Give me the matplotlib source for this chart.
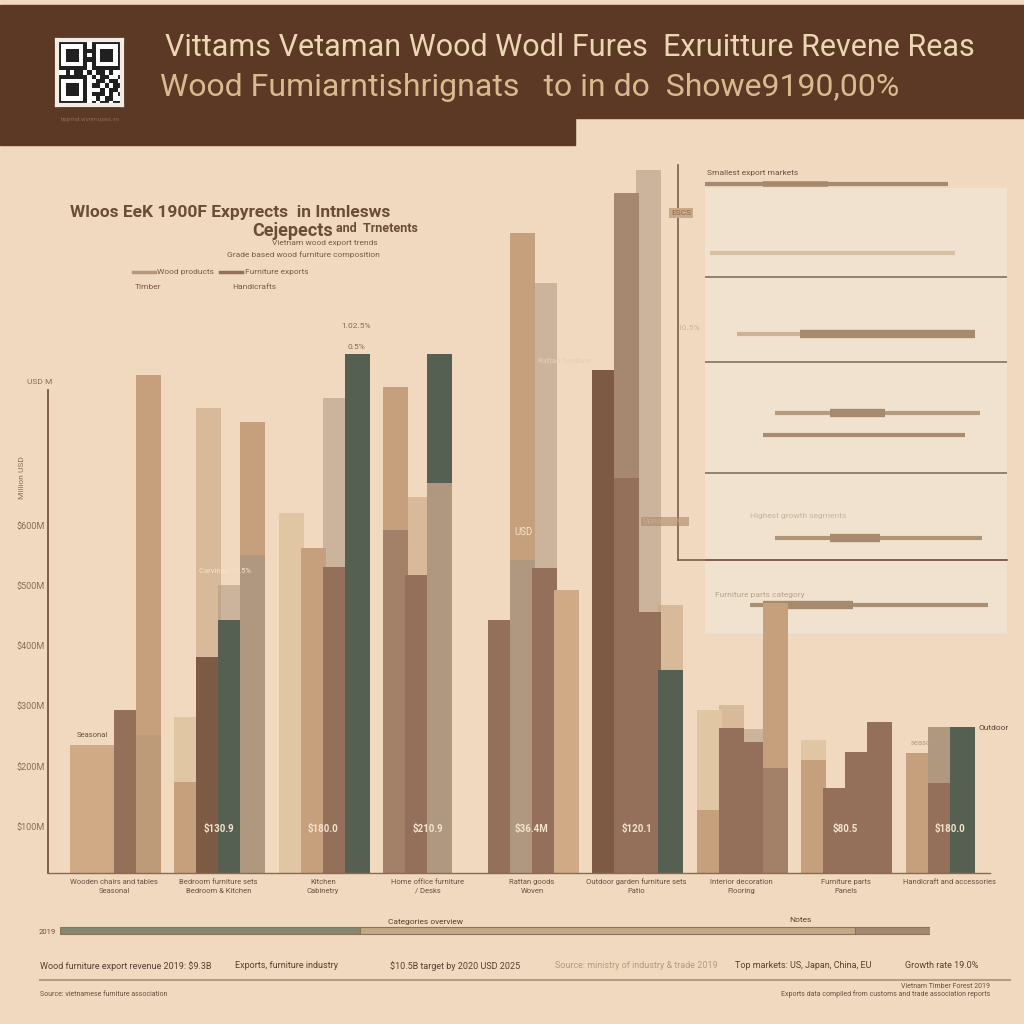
import matplotlib.pyplot as plt
import numpy as np
from matplotlib.patches import Rectangle
from matplotlib.lines import Line2D

nan = np.nan

# ---- data (million USD) ----
group_labels = ['Wooden chairs and tables\nSeasonal', 'Bedroom furniture sets\nBedroom & Kitchen',
                'Kitchen\nCabinetry', 'Home office furniture\n/ Desks', 'Rattan goods\nWoven',
                'Outdoor garden furniture sets\nPatio', 'Interior decoration\nFlooring',
                'Furniture parts\nPanels', 'Handicraft and accessories\n']
slot0 = [235, 282, 622, 832, 444, 860, 294, 244, 222]
slot1 = [235, 382, 564, 519, 1089, 1155, 264, 164, 265]
slot2 = [294, 444, 532, 887, 530, 457, 240, 224, 265]
slot3 = [852, 774, 887, nan, 494, 360, 472, 274, nan]
# darker base portion of two-tone bars
low0 = [nan, 174, nan, 594, nan, nan, 127, 210, nan]
low1 = [nan, nan, nan, nan, 544, 680, nan, nan, 172]
low2 = [nan, nan, nan, 672, nan, nan, nan, nan, nan]
low3 = [252, 552, nan, nan, nan, nan, 197, nan, nan]
# faded bars behind
ghost1 = [nan, 797, nan, 649, nan, nan, 302, nan, nan]
ghost2 = [nan, 502, 814, nan, 1005, 1194, 262, nan, nan]
ghost3 = [nan, nan, nan, nan, nan, 469, nan, nan, nan]
bar_notes = ['', '$130.9', '$180.0', '$210.9', '$36.4M', '$120.1', '', '$80.5', '$180.0']

y_ticks = [100, 200, 300, 400, 500, 600]
y_tick_labels = ['$100M', '$200M', '$300M', '$400M', '$500M', '$600M']

# right panel: share of exports (%) as range lines
panel_start = [0, 1.7, 10.6, 23.2, 19.2, 23.2, 14.9]
panel_end = [80.5, 82.8, 89.4, 91.0, 86.1, 91.7, 93.7]
panel_hi_start = [19.2, nan, 31.5, 41.4, nan, 41.4, 19.2]
panel_hi_end = [40.7, nan, 89.4, 59.6, nan, 58.0, 49.0]

timeline_parts = [300, 495, 75]
footer_items = ['Wood furniture export revenue 2019: $9.3B', 'Exports, furniture industry',
                '$10.5B target by 2020 USD 2025', 'Source: ministry of industry & trade 2019',
                'Top markets: US, Japan, China, EU', 'Growth rate 19.0%']

# ---- styles ----
bg = '#f0d9bf'
banner = '#5b3924'
C = {'tan': '#c6a07c', 'pale': '#e0c6a2', 'brown': '#94705a', 'dark': '#7c5a44',
     'green': '#566052', 'grey': '#b09780', 'light': '#cfaa85', 'tan2': '#bd9a78',
     'mid': '#a38068', 'taupe': '#a68870'}
front_cols = [
    ['light', 'light', 'brown', 'tan'],
    ['pale', 'dark', 'green', 'tan'],
    ['pale', 'tan', 'brown', 'green'],
    ['tan', 'brown', 'green', 'tan'],
    ['brown', 'tan', 'brown', 'light'],
    ['dark', 'taupe', 'brown', 'green'],
    ['pale', 'brown', 'brown', 'tan'],
    ['pale', 'brown', 'brown', 'brown'],
    ['tan', 'grey', 'green', 'tan'],
]
low_cols = [['tan', 'mid', 'grey', 'tan2'],
            ['tan', 'mid', 'grey', 'grey'],
            ['tan', 'mid', 'grey', 'mid'],
            ['mid', 'mid', 'grey', 'mid'],
            ['tan', 'grey', 'grey', 'mid'],
            ['tan', 'brown', 'grey', 'mid'],
            ['tan', 'mid', 'grey', 'mid'],
            ['tan', 'brown', 'grey', 'mid'],
            ['tan', 'brown', 'grey', 'mid']]
ghost_cols = ['tan', 'grey', 'tan']

plt.rcParams['font.family'] = ['Roboto', 'DejaVu Sans']


def fx(x):
    return x / 1024


def fy(y):
    return 1 - y / 1024


fig = plt.figure(figsize=(10.24, 10.24), dpi=100, facecolor=bg)

# header banner
fig.patches.append(Rectangle((0, fy(118)), 1, fy(5) - fy(118), transform=fig.transFigure,
                             color=banner, zorder=-1))
fig.patches.append(Rectangle((0, fy(145)), fx(575), fy(118) - fy(145), transform=fig.transFigure,
                             color=banner, zorder=-1))
fig.text(fx(165), fy(47), 'Vittams Vetaman Wood Wodl Fures  Exruitture Revene Reas',
         color='#ecd6b3', fontsize=22, va='center', ha='left')
fig.text(fx(160), fy(88), 'Wood Fumiarntishrignats   to in do  Showe9190,00%',
         color='#d9b98f', fontsize=23, va='center', ha='left')

# qr code
qr_rows = ["111111101111111", "100000101000001", "101110111011101", "101110101011101",
           "101110111011101", "100000101000001", "111111101111111", "001011010110100",
           "111111101011001", "100000100110110", "101110101101011", "101110100010110",
           "101110101110101", "100000100101100", "111111101011011"]
qr = np.array([[int(c) for c in r] for r in qr_rows])
qax = fig.add_axes([fx(57), fy(105), 65 / 1024, 65 / 1024])
qax.imshow(1 - qr, cmap='gray', interpolation='nearest', vmin=-0.15, vmax=1)
qax.set_xticks([])
qax.set_yticks([])
for s in qax.spines.values():
    s.set_color('#f2ece4')
    s.set_linewidth(3)
fig.text(fx(90), fy(119), 'hppmd.wvnmuses.vn', color='#8a6a55', fontsize=4.5, ha='center', va='center')

# right panel
pax = fig.add_axes([fx(705), fy(635), fx(1007) - fx(705), fy(188) - fy(635)], facecolor='#f0e2ce')
pax.set_zorder(1)
pax.set_xlim(0, 100)
pax.set_ylim(5, 0)
pax.set_xticks([])
pax.set_yticks([])
for s in pax.spines.values():
    s.set_visible(False)
for d in [1.0, 1.95, 3.19, 4.16]:
    pax.axhline(d, color='#7d6552', lw=1.1)
pax.axhline(5, color='#c9b29a', lw=1)
line_pos = [-0.045, 0.73, 1.63, 2.52, 2.76, 3.91, 4.66]
line_cols = ['#a38a72', '#d8c1a3', '#cdb394', '#b59a7e', '#a98d72', '#b09479', '#ab8f74']
for i in range(len(line_pos)):
    pax.plot([panel_start[i], panel_end[i]], [line_pos[i]] * 2, color=line_cols[i],
             lw=3, solid_capstyle='butt', clip_on=False)
    if not np.isnan(panel_hi_start[i]):
        pax.plot([panel_hi_start[i], panel_hi_end[i]], [line_pos[i]] * 2, color='#a7896c',
                 lw=6 if i else 4, solid_capstyle='butt', clip_on=False)
fig.text(fx(707), fy(173), 'Smallest export markets', color='#6b5040', fontsize=6, va='center')
fig.text(fx(750), fy(516), 'Highest growth segments', color='#c9b39b', fontsize=6, va='center')
fig.text(fx(715), fy(595), 'Furniture parts category', color='#b9a38b', fontsize=6, va='center')
fig.add_artist(Line2D([fx(678), fx(678)], [fy(165), fy(560)], color='#7a5f4a', lw=1.2))
fig.add_artist(Line2D([fx(678), fx(1007)], [fy(560), fy(560)], color='#7a5f4a', lw=1.2))
fig.text(fx(681), fy(213), 'ESCS', color='#8a6a52', fontsize=6, ha='center', va='center',
         bbox=dict(facecolor='#c9a987', edgecolor='none', pad=1.5))
fig.text(fx(700), fy(328), '10.5%', color='#cdb398', fontsize=6, ha='right', va='center')

# main chart
ax = fig.add_axes([fx(48), fy(873), fx(990) - fx(48), fy(160) - fy(873)])
ax.set_facecolor('none')
ax.set_zorder(3)
ax.set_xlim(-0.2105, 8.804)
ax.set_ylim(22, 1210)
step = 0.2105
w = 0.235
x = np.arange(len(group_labels))

ghosts = [ghost1, ghost2, ghost3]
for k, g in enumerate(ghosts):
    ax.bar(x + (k + 1) * step, g, width=w, align='edge', color=C[ghost_cols[k]], alpha=0.55,
           zorder=1, linewidth=0)
slots = [slot0, slot1, slot2, slot3]
lows = [low0, low1, low2, low3]
for s in range(4):
    cols = [C[front_cols[i][s]] for i in range(len(x))]
    ax.bar(x + s * step, slots[s], width=w, align='edge', color=cols, zorder=2 + s * 0.1,
           linewidth=0)
    lcols = [C[low_cols[i][s]] for i in range(len(x))]
    ax.bar(x + s * step, lows[s], width=w, align='edge', color=lcols, zorder=2.05 + s * 0.1,
           linewidth=0)

for i, note in enumerate(bar_notes):
    ax.text(x[i] + 2 * step, 95, note, color='#f3e3cc', fontsize=7, ha='center', va='center',
            fontweight='bold', zorder=5)
ax.text(x[0] + step, 247, 'Seasonal', color='#6b5040', fontsize=5.5, ha='center', va='bottom', zorder=5)
ax.text(x[1] + 2.3 * step, 522, 'Carvings 10.5%', color='#f3e3cc', fontsize=5.5, ha='center', zorder=5)
ax.text(x[2] + 3.5 * step, 930, '1.02.5%', color='#8a6a50', fontsize=6, ha='center', zorder=5)
ax.text(x[2] + 3.5 * step, 895, '0.5%', color='#8a6a50', fontsize=6, ha='center', zorder=5)
ax.text(x[4] + 1.6 * step, 585, 'USD', color='#f3e3cc', fontsize=7, ha='center', zorder=5)
ax.text(x[4] + 3.5 * step, 872, 'Rattan furniture', color='#e5cfb2', fontsize=5.5, ha='center', zorder=5)
ax.text(x[5] + 3.3 * step, 605, 'Upholstered', color='#c9a987', fontsize=6, ha='center', zorder=5,
        bbox=dict(facecolor='#a8886b', edgecolor='none', pad=1, alpha=0.6))
ax.text(x[8] + 0.9 * step, 235, 'seasonal', color='#b59b80', fontsize=5.5, ha='center', zorder=5)
ax.text(x[8] + 3.3 * step, 260, 'Outdoor', color='#5a4030', fontsize=6, ha='left', zorder=5)

for s in ['top', 'right']:
    ax.spines[s].set_visible(False)
ax.spines['left'].set_bounds(22, 827)
ax.spines['left'].set_color('#6b4a33')
ax.spines['left'].set_linewidth(1.2)
ax.spines['bottom'].set_color('#8a6a50')
ax.spines['bottom'].set_linewidth(1)
ax.set_yticks(y_ticks)
ax.set_yticklabels(y_tick_labels, fontsize=6.5, color='#8a6e58')
ax.tick_params(axis='y', length=0, pad=2)
ax.set_xticks(x + 2 * step)
ax.set_xticklabels(group_labels, fontsize=5.5, color='#6b5040', linespacing=1.6)
ax.tick_params(axis='x', length=0, pad=4)
fig.text(fx(40), fy(382), 'USD M', color='#8a6e58', fontsize=6, ha='center', va='center')
fig.text(fx(22), fy(478), 'Million USD', color='#8a6e58', fontsize=6, rotation=90,
         ha='center', va='center')

# chart title block
fig.text(fx(390), fy(213), 'Wloos EeK 1900F Expyrects  in Intnlesws', color='#6b4d36',
         fontsize=12.5, fontweight='bold', ha='right', va='center')
fig.text(fx(333), fy(231), 'Cejepects', color='#6b4d36', fontsize=13, fontweight='bold',
         ha='right', va='center')
fig.text(fx(336), fy(229), 'and  Trnetents', color='#6b4d36', fontsize=9, fontweight='bold',
         ha='left', va='center')
fig.text(fx(378), fy(243), 'Vietnam wood export trends', color='#7a5c45', fontsize=6,
         ha='right', va='center')
fig.text(fx(380), fy(255), 'Grade based wood furniture composition', color='#7a5c45', fontsize=6,
         ha='right', va='center')
fig.add_artist(Line2D([fx(133), fx(155)], [fy(272), fy(272)], color='#b8987a', lw=2.5))
fig.add_artist(Line2D([fx(220), fx(242)], [fy(272), fy(272)], color='#94705a', lw=2.5))
fig.text(fx(157), fy(272), 'Wood products', color='#7a5c45', fontsize=6, va='center')
fig.text(fx(245), fy(272), 'Furniture exports', color='#7a5c45', fontsize=6, va='center')
fig.text(fx(135), fy(287), 'Timber', color='#7a5c45', fontsize=6, va='center')
fig.text(fx(232), fy(287), 'Handicrafts', color='#7a5c45', fontsize=6, va='center')

# footer timeline
tax = fig.add_axes([fx(60), fy(936), fx(930) - fx(60), 11 / 1024])
tax.set_facecolor('none')
left = 0
tcols = ['#85876f', '#c5a985', '#a3896f']
for v, c in zip(timeline_parts, tcols):
    tax.barh(0, v, left=left, height=0.6, color=c, edgecolor='#8e7358', linewidth=0.8)
    left += v
tax.set_xlim(0, sum(timeline_parts))
tax.set_ylim(-0.5, 0.5)
tax.axis('off')
fig.text(fx(56), fy(932), '2019', color='#6b5040', fontsize=5.5, ha='right', va='center')
fig.text(fx(425), fy(922), 'Categories overview', color='#5a4030', fontsize=6, ha='center', va='center')
fig.text(fx(800), fy(920), 'Notes', color='#5a4030', fontsize=6, ha='center', va='center')

foot_x = [40, 235, 390, 555, 735, 905]
for xx, t in zip(foot_x, footer_items):
    col = '#b89a7a' if 'Source' in t else '#5a4030'
    fig.text(fx(xx), fy(966), t, color=col, fontsize=6.5, va='center')
fig.add_artist(Line2D([fx(40), fx(1010)], [fy(980), fy(980)], color='#b89c80', lw=1.5))
fig.text(fx(40), fy(994), 'Source: vietnamese furniture association', color='#6b5040', fontsize=5, va='center')
fig.text(fx(990), fy(986), 'Vietnam Timber Forest 2019', color='#6b5040', fontsize=5, ha='right', va='center')
fig.text(fx(990), fy(994), 'Exports data compiled from customs and trade association reports',
         color='#6b5040', fontsize=5, ha='right', va='center')

fig.savefig('out.png', dpi=100, facecolor=bg)
